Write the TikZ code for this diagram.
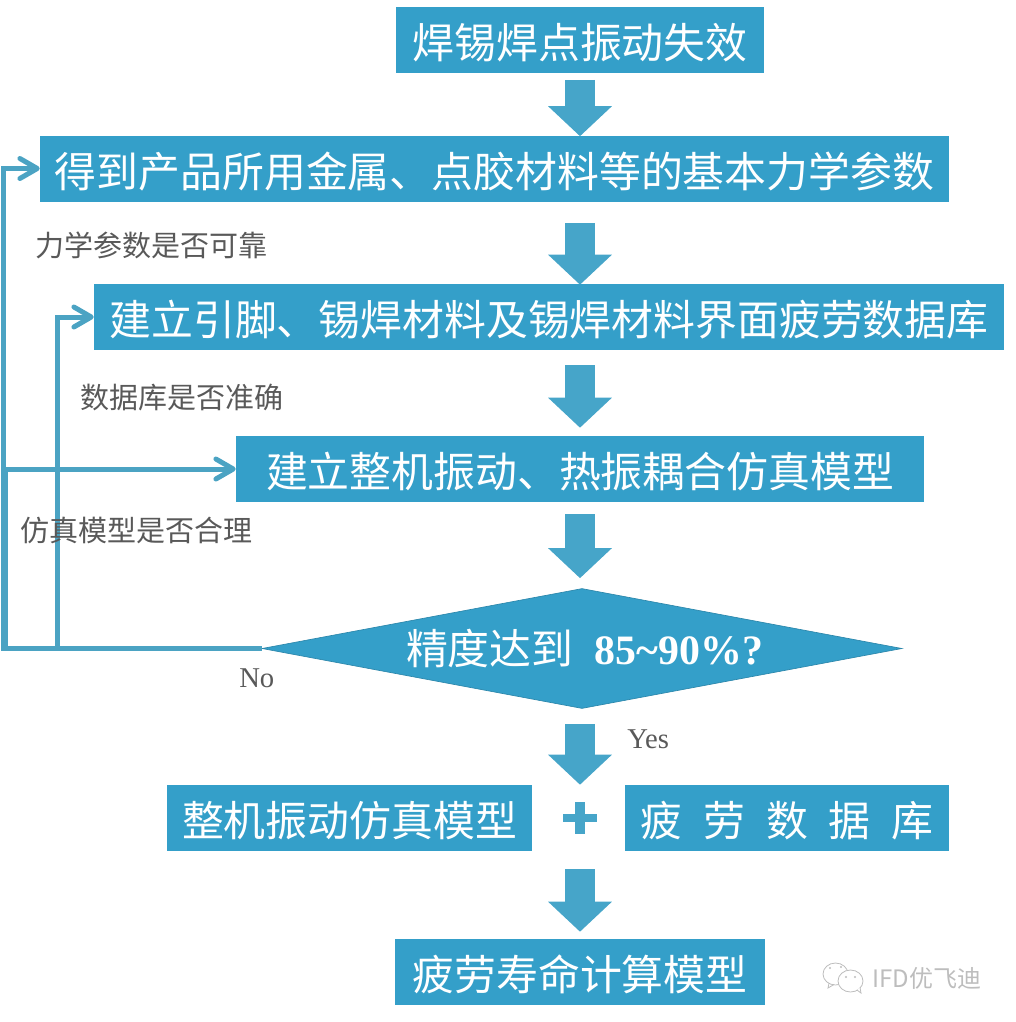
\documentclass[tikz,border=0pt]{standalone}
\usepackage{fontspec}
\usepackage{xcolor}
\usetikzlibrary{arrows.meta,shapes.geometric}
\setmainfont{Liberation Serif}
\newfontfamily\cjk{Noto Sans CJK SC}
\definecolor{boxblue}{HTML}{349FC9}
\definecolor{arrowblue}{HTML}{46A5C9}
\definecolor{lineblue}{HTML}{4BA3C3}
\definecolor{notegray}{HTML}{595959}
\definecolor{markgray}{HTML}{BDBDBD}
\tikzset{
	flowbox/.style={
			fill=boxblue, text=white, inner sep=0pt, minimum height=49.5pt,
			text height=30pt, text depth=1.7pt,
			font=\cjk\fontsize{31.4}{36}\selectfont
		},
	decision/.style={
			flowbox, shape=diamond, aspect=5.33, minimum width=480pt, minimum height=90pt,
			text height=27.6pt, text depth=3.7pt,
			draw=boxblue!85!black, line width=0.5pt
		},
	blockarrow/.style={
			draw=arrowblue, line width=22.5pt,
			-{Triangle[length=22.5pt,width=46.5pt]}
		},
	feedback/.style={
			draw=lineblue, line width=3.75pt,
			-{Straight Barb[length=13pt,width=15pt,line width=3.75pt,round]}
		},
	note/.style={
			anchor=west, inner sep=0pt, text=notegray,
			font=\cjk\fontsize{21.75}{26}\selectfont
		},
	answer/.style={
			anchor=west, inner sep=0pt, text=notegray,
			font=\fontsize{21.5}{26}\selectfont
		}
}

\begin{document}
\begin{tikzpicture}[x=0.75pt,y=-0.75pt]

	\useasboundingbox (0,0) rectangle (1015,1022);

	% Draw the flow boxes
	\node[flowbox, minimum width=276pt] (title) at (580,39.5) {焊锡焊点振动失效};
	\node[flowbox, minimum width=681.75pt] (params) at (494.5,168.5) {得到产品所用金属、点胶材料等的基本力学参数};
	\node[flowbox, minimum width=682.5pt] (database) at (549,317) {建立引脚、锡焊材料及锡焊材料界面疲劳数据库};
	\node[flowbox, minimum width=516pt] (model) at (580,469) {建立整机振动、热振耦合仿真模型};
	\node[decision] (check) at (582,648.5) {\hspace{4pt}精度达到\hspace{16pt}{\rmfamily\bfseries 85\textasciitilde90\%?}};
	\node[flowbox, minimum width=273.75pt] (sim) at (349.5,818) {整机振动仿真模型};
	\node[flowbox, minimum width=243pt] (fatigue) at (787,818) {疲\hspace{15.75pt}劳\hspace{15.75pt}数\hspace{15.75pt}据\hspace{15.75pt}库};
	\node[flowbox, minimum width=277.5pt] (life) at (580,972) {疲劳寿命计算模型};

	% Draw the block arrows
	\draw[blockarrow, shorten <=5.25pt, shorten >=-0.75pt] (title.south) -- (title.south |- params.north);
	\draw[blockarrow, shorten <=15.75pt, shorten >=-0.75pt] (title.south |- params.south) -- (title.south |- database.north);
	\draw[blockarrow, shorten <=11.25pt, shorten >=6pt] (title.south |- database.south) -- (title.south |- model.north);
	\draw[blockarrow, shorten <=9pt, shorten >=7.5pt] (model.south) -- (title.south |- check.north);
	\draw[blockarrow, shorten <=11.25pt, shorten >=0pt] (title.south |- check.south) -- (title.south |- sim.north);
	\draw[blockarrow, shorten <=13.5pt, shorten >=5.25pt] (title.south |- sim.south) -- (life.north);

	% Draw the plus sign
	\fill[arrowblue] (563,814) rectangle (597,822);
	\fill[arrowblue] (575,802) rectangle (585,834);

	% Draw the feedback lines
	\coordinate (railA) at (3.5,648.5);
	\coordinate (railB) at (57,648.5);
	\coordinate (railC) at (5,648.5);
	\draw[feedback] (check.west) -- (railA) |- (params.west);
	\draw[feedback] (check.west) -- (railB) |- (database.west);
	\draw[feedback] (check.west) -- (railC) |- (model.west);

	% Draw the labels
	\node[note] (noteparams) at (35,245) {力学参数是否可靠};
	\node[note] (notedatabase) at (80,398) {数据库是否准确};
	\node[note] (notemodel) at (20,530) {仿真模型是否合理};
	\node[answer] (no) at (239,678) {No};
	\node[answer] (yes) at (627,739) {Yes};

	% Draw the watermark
	\draw[markgray, line width=0.6pt] (835.5,974) ellipse (12.5 and 11);
	\draw[markgray, line width=0.6pt, fill=white] (850.5,981) ellipse (12.5 and 11);
	\draw[markgray, line width=0.6pt] (829,983) -- (828,988) -- (834,984.5);
	\draw[markgray, line width=0.6pt, fill=white] (857,990) -- (861,993) -- (860,987.5);
	\fill[markgray] (830,968) circle (1.2) (841,967) circle (1.2) (846,977) circle (1.2) (855,977) circle (1.2);
	\node[inner sep=0pt, anchor=west, text=markgray, font=\cjk\fontsize{18}{22}\selectfont] (mark) at (872,978) {IFD优飞迪};

\end{tikzpicture}
\end{document}
